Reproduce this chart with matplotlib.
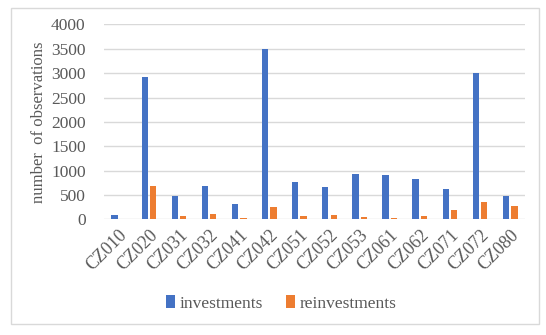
import matplotlib
matplotlib.use('Agg')
import matplotlib.pyplot as plt
import numpy as np
from matplotlib.patches import Rectangle

# data
regions = ['CZ010', 'CZ020', 'CZ031', 'CZ032', 'CZ041', 'CZ042', 'CZ051',
           'CZ052', 'CZ053', 'CZ061', 'CZ062', 'CZ071', 'CZ072', 'CZ080']
investments = [90, 2920, 480, 680, 315, 3500, 770, 660, 930, 910, 820, 620, 3010, 480]
reinvestments = [0, 680, 70, 115, 30, 250, 70, 90, 50, 25, 70, 185, 360, 270]

plt.rcParams['font.family'] = ['Liberation Serif', 'DejaVu Serif']
grey = '#595959'

fig = plt.figure(figsize=(5.46, 3.35), dpi=100)
ax = fig.add_axes([0.190, 0.345, 0.772, 0.582])

x = np.arange(len(regions))
w = 0.21
ax.bar(x - 0.14, investments, w, color='#4472C4', label='investments', zorder=3)
ax.bar(x + 0.14, reinvestments, w, color='#ED7D31', label='reinvestments', zorder=3)

ax.set_xlim(-0.5, len(regions) - 0.5)
ax.set_ylim(0, 4000)
ax.set_yticks(np.arange(0, 4001, 500))
ax.grid(axis='y', color='#d9d9d9', linewidth=1, zorder=0)
for s in ax.spines.values():
    s.set_visible(False)
ax.tick_params(axis='y', length=0, labelsize=12.5, colors=grey, pad=13)
ax.tick_params(axis='x', length=0, labelsize=13, colors=grey, pad=5)
ax.set_xticks(x)
ax.set_xticklabels(regions, rotation=45, ha='right', rotation_mode='anchor')
ax.set_ylabel('number  of observations', fontsize=12, color=grey, labelpad=3)

fig.legend(loc='center', bbox_to_anchor=(0.515, 0.095), ncol=2, frameon=False,
           fontsize=12.5, handlelength=0.55, handleheight=0.8, handletextpad=0.25,
           columnspacing=1.3, labelcolor=grey)

# light frame around the whole chart
fig.patches.append(Rectangle((11 / 546, 1 - 324 / 335), 528 / 546, 316 / 335,
                             transform=fig.transFigure, fill=False,
                             edgecolor='#d9d9d9', linewidth=1))

fig.savefig('out.png', dpi=100, facecolor='white')
